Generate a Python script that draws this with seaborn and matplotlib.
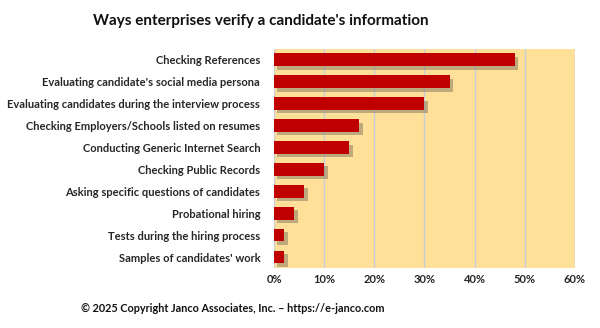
import matplotlib
matplotlib.use("Agg")
import matplotlib.pyplot as plt
import matplotlib.patheffects as pe
import seaborn as sns
import pandas as pd
from matplotlib.ticker import FuncFormatter, MultipleLocator

categories = [
    "Checking References",
    "Evaluating candidate's social media persona",
    "Evaluating candidates during the interview process",
    "Checking Employers/Schools listed on resumes",
    "Conducting Generic Internet Search",
    "Checking Public Records",
    "Asking specific questions of candidates",
    "Probational hiring",
    "Tests during the hiring process",
    "Samples of candidates' work",
]
shares = [48, 35, 30, 17, 15, 10, 6, 4, 2, 2]

title = "Ways enterprises verify a candidate's information"
footer = "\u00a9 2025 Copyright Janco Associates, Inc. \u2013 https://e-janco.com"

df = pd.DataFrame({"method": categories, "share": shares})

sns.set_style("white")
plt.rcParams["font.family"] = ["Lato", "DejaVu Sans"]

fig = plt.figure(figsize=(6.0, 3.28), dpi=100)
ax = fig.add_axes([0.4567, 0.183, 0.5015, 0.668])
ax.set_facecolor("#FEE099")

sns.barplot(data=df, x="share", y="method", orient="h", color="#C00000",
            width=0.58, saturation=1, ax=ax, zorder=3)

shadow = [pe.SimplePatchShadow(offset=(2.5, -2.5), shadow_rgbFace="#8a7c66", alpha=0.55),
          pe.Normal()]
for p in ax.patches:
    p.set_path_effects(shadow)
    p.set_edgecolor("none")

ax.set_xlim(0, 60)
ax.xaxis.set_major_locator(MultipleLocator(10))
ax.xaxis.set_major_formatter(FuncFormatter(lambda v, _: f"{v:.0f}%"))
ax.grid(axis="x", color="#C9CDD6", linewidth=1.0, zorder=0)
ax.set_axisbelow(True)
for s in ax.spines.values():
    s.set_visible(False)
ax.set_xlabel("")
ax.set_ylabel("")
ax.tick_params(axis="both", length=0, pad=4)
for lbl in ax.get_xticklabels():
    lbl.set_fontsize(8)
    lbl.set_fontweight("bold")
for lbl in ax.get_yticklabels():
    lbl.set_fontsize(8)
    lbl.set_fontweight("bold")
ax.tick_params(axis="y", pad=10)

fig.text(261 / 600, 1 - 21 / 328, title, ha="center", va="center",
         fontsize=11, fontweight="bold", color="#111111")
fig.text(233 / 600, 1 - 308 / 328, footer, ha="center", va="center",
         fontsize=7.8, fontweight="bold", color="#111111")

fig.savefig("out.png", dpi=100, facecolor="white")
